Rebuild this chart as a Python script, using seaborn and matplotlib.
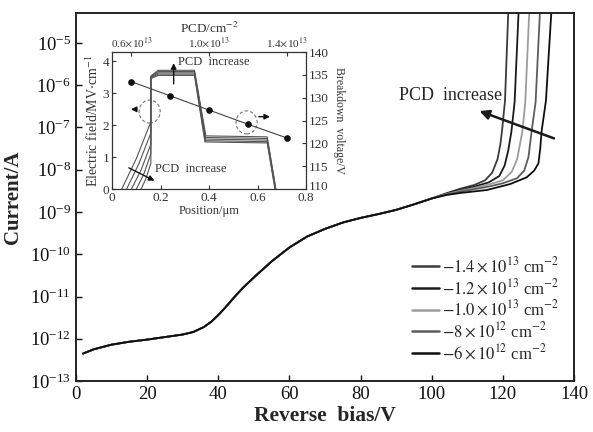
import numpy as np
import pandas as pd
import matplotlib
matplotlib.use("Agg")
import matplotlib.pyplot as plt
import matplotlib.transforms as mtransforms
from matplotlib.patches import Ellipse
from matplotlib.lines import Line2D
from matplotlib.ticker import NullLocator
import seaborn as sns

# ── Data ──────────────────────────────────────────────────────────────────────
pcd_names = ["-1.4e13", "-1.2e13", "-1.0e13", "-8e12", "-6e12"]
legend_labels = [r"$-1.4\times10^{13}$ cm$^{-2}$", r"$-1.2\times10^{13}$ cm$^{-2}$",
                 r"$-1.0\times10^{13}$ cm$^{-2}$", r"$-8\times10^{12}$ cm$^{-2}$",
                 r"$-6\times10^{12}$ cm$^{-2}$"]
line_colors = ["#3c3c3c", "#1a1a1a", "#9c9c9c", "#5c5c5c", "#0e0e0e"]

# shared part of the I-V curves (log10 of current)
base_bias = [2, 5, 10, 15, 20, 25, 30, 33, 36, 38, 40, 42, 45, 47, 50, 55, 60, 65, 70, 75,
             80, 85, 90, 95, 100]
base_logI = [-12.35, -12.25, -12.14, -12.07, -12.02, -11.96, -11.90, -11.84, -11.72, -11.60,
             -11.44, -11.26, -10.97, -10.79, -10.55, -10.17, -9.84, -9.58, -9.40, -9.25,
             -9.14, -9.05, -8.95, -8.82, -8.68]

# breakdown tails, one per PCD
tail_bias_14 = [104, 108, 112, 115, 117, 118.5, 119.3, 119.8, 120.6, 121.5, 121.8]
tail_logI_14 = [-8.56, -8.45, -8.36, -8.25, -8.07, -7.75, -7.40, -7.05, -6.37, -4.30, -3.50]
tail_bias_12 = [104, 108, 112, 116, 119, 120.5, 121.5, 122.4, 123.3, 124.4, 124.7]
tail_logI_12 = [-8.57, -8.48, -8.40, -8.30, -8.15, -7.90, -7.55, -7.10, -6.40, -4.30, -3.50]
tail_bias_10 = [104, 108, 112, 116, 120, 122.5, 124, 124.8, 125.5, 126.3, 127.4, 127.7]
tail_logI_10 = [-8.58, -8.50, -8.43, -8.35, -8.25, -8.05, -7.75, -7.40, -7.08, -6.40, -4.30, -3.50]
tail_bias_08 = [104, 108, 112, 116, 120, 124, 126, 127.2, 128.1, 129.2, 130.4, 130.7]
tail_logI_08 = [-8.59, -8.52, -8.46, -8.40, -8.32, -8.20, -8.02, -7.70, -7.08, -6.40, -4.30, -3.50]
tail_bias_06 = [104, 108, 115.5, 122, 126.7, 128.8, 130, 130.5, 130.9, 132.1, 133.6, 133.9]
tail_logI_06 = [-8.60, -8.55, -8.48, -8.34, -8.18, -8.02, -7.85, -7.50, -7.08, -6.37, -4.30, -3.50]

# inset: electric field profiles
pos_06 = [0.040, 0.100, 0.160, 0.160, 0.190, 0.340, 0.383, 0.640, 0.672]
field_06 = [0, 0.95, 2.10, 3.45, 3.55, 3.55, 1.47, 1.44, 0]
pos_08 = [0.060, 0.110, 0.160, 0.160, 0.190, 0.340, 0.384, 0.640, 0.673]
field_08 = [0, 0.78, 1.75, 3.47, 3.59, 3.59, 1.51, 1.48, 0]
pos_10 = [0.080, 0.120, 0.160, 0.160, 0.190, 0.340, 0.385, 0.640, 0.674]
field_10 = [0, 0.60, 1.40, 3.49, 3.63, 3.63, 1.56, 1.53, 0]
pos_12 = [0.100, 0.130, 0.160, 0.160, 0.190, 0.340, 0.386, 0.640, 0.675]
field_12 = [0, 0.45, 1.10, 3.51, 3.67, 3.67, 1.61, 1.58, 0]
pos_14 = [0.120, 0.140, 0.160, 0.160, 0.190, 0.340, 0.387, 0.640, 0.676]
field_14 = [0, 0.33, 0.80, 3.53, 3.71, 3.71, 1.66, 1.63, 0]

# inset: breakdown voltage vs PCD (x1e13 cm^-2)
pcd_values = [0.6, 0.8, 1.0, 1.2, 1.4]
breakdown_v = [133.5, 130.4, 127.3, 124.2, 121.2]

# ── Build long tables ─────────────────────────────────────────────────────────
tails = [(tail_bias_14, tail_logI_14), (tail_bias_12, tail_logI_12), (tail_bias_10, tail_logI_10),
         (tail_bias_08, tail_logI_08), (tail_bias_06, tail_logI_06)]
rows = []
for name, (tb, tl) in zip(pcd_names, tails):
    for v, li in zip(base_bias + tb, base_logI + tl):
        rows.append({"pcd": name, "bias": v, "current": 10.0 ** li})
iv = pd.DataFrame(rows)

profiles = [(pos_14, field_14), (pos_12, field_12), (pos_10, field_10), (pos_08, field_08), (pos_06, field_06)]
rows = []
for name, (p, f) in zip(pcd_names, profiles):
    for x, y in zip(p, f):
        rows.append({"pcd": name, "pos": x, "field": y})
ef = pd.DataFrame(rows)

bv = pd.DataFrame({"pcd": pcd_values, "vbd": breakdown_v})

# ── Style ─────────────────────────────────────────────────────────────────────
sns.set_theme(style="ticks")
plt.rcParams["font.family"] = ["Liberation Serif", "DejaVu Serif"]
plt.rcParams["mathtext.fontset"] = "stix"
plt.rcParams["axes.unicode_minus"] = True

fig = plt.figure(figsize=(5.93, 4.32), dpi=100)
ax = fig.add_axes([0.128, 0.118, 0.840, 0.852])

palette = dict(zip(pcd_names, line_colors))
sns.lineplot(data=iv, x="bias", y="current", hue="pcd", hue_order=pcd_names, palette=palette,
             estimator=None, sort=False, lw=1.3, legend=False, ax=ax)
ax.set_yscale("log")
ax.set_xlim(0, 140)
ax.set_ylim(1e-13, 10 ** -4.29)
ax.set_xticks([0, 20, 40, 60, 80, 100, 120, 140])
ax.set_yticks([10.0 ** k for k in range(-13, -4)])
ax.yaxis.set_minor_locator(NullLocator())
ax.tick_params(direction="in", length=4, width=1, labelsize=13.5, colors="#111")
for s in ax.spines.values():
    s.set_linewidth(1.4)
    s.set_color("#222")
ax.set_xlabel("Reverse  bias/V", fontsize=15.5, fontweight="bold", labelpad=2)
ax.set_ylabel("Current/A", fontsize=15, fontweight="bold", labelpad=5)

ax.annotate("", xy=(112.7, 10 ** -6.59), xytext=(135.1, 10 ** -7.28),
            arrowprops=dict(arrowstyle="-|>", lw=1.8, mutation_scale=14, color="k"))
ax.text(105.3, 10 ** -6.25, "PCD  increase", ha="center", va="center", fontsize=13)

handles = [Line2D([], [], color=c, lw=1.8) for c in line_colors]
ax.legend(handles, legend_labels, loc="upper left", bbox_to_anchor=(0.695, 0.408),
          bbox_transform=fig.transFigure, frameon=False, fontsize=12, handlelength=1.6,
          handletextpad=0.2, labelspacing=0.12, borderpad=0, borderaxespad=0)

# ── Inset ─────────────────────────────────────────────────────────────────────
rect = [0.189, 0.5625, 0.327, 0.317]
ins = fig.add_axes(rect)
for name in pcd_names:
    sub = ef[ef["pcd"] == name]
    sns.lineplot(data=sub, x="pos", y="field", estimator=None, sort=False,
                 color="#555", lw=0.8, ax=ins)
ins.set_xlim(0, 0.8)
ins.set_ylim(0, 4.28)
ins.set_xticks([0, 0.2, 0.4, 0.6, 0.8])
ins.set_xticklabels(["0", "0.2", "0.4", "0.6", "0.8"])
ins.set_yticks([0, 1, 2, 3, 4])
ins.tick_params(direction="in", length=3, width=0.8, labelsize=9.5, colors="#333", pad=2)
for s in ins.spines.values():
    s.set_linewidth(0.9)
    s.set_color("#333")
ins.set_xlabel("Position/μm", fontsize=9, color="#333", labelpad=1)
ins.set_ylabel(r"Electric field/MV$\cdot$cm$^{-1}$", fontsize=10, color="#333", labelpad=1)

ins.add_patch(Ellipse((0.155, 2.42), 0.087, 0.72, fill=False, ls=(0, (3, 2)), ec="#777", lw=0.8))
ins.add_patch(Ellipse((0.555, 2.08), 0.087, 0.72, fill=False, ls=(0, (3, 2)), ec="#777", lw=0.8))
arr = dict(arrowstyle="-|>", lw=1.0, mutation_scale=8, color="#111")
ins.annotate("", xy=(0.066, 2.49), xytext=(0.114, 2.49), arrowprops=arr)
ins.annotate("", xy=(0.663, 2.26), xytext=(0.594, 2.26), arrowprops=arr)
ins.annotate("", xy=(0.254, 4.02), xytext=(0.254, 3.20), arrowprops=arr)
ins.annotate("", xy=(0.185, 0.22), xytext=(0.059, 0.70), arrowprops=arr)
ins.text(0.272, 3.96, "PCD  increase", fontsize=9, color="#333", va="center")
ins.text(0.177, 0.61, "PCD  increase", fontsize=9, color="#333", va="center")

bvax = fig.add_axes(rect, facecolor="none")
sns.lineplot(data=bv, x="pcd", y="vbd", color="#444", lw=0.8, marker="o", markersize=4,
             markerfacecolor="#111", markeredgecolor="#111", ax=bvax)
bvax.set_xlim(0.5, 1.5)
bvax.set_ylim(110, 140)
bvax.xaxis.tick_top()
bvax.xaxis.set_label_position("top")
bvax.yaxis.tick_right()
bvax.yaxis.set_label_position("right")
bvax.set_xticks([0.6, 1.0, 1.4])
bvax.set_xticklabels([r"0.6$\times$10$^{13}$", r"1.0$\times$10$^{13}$", r"1.4$\times$10$^{13}$"])
bvax.set_yticks([110, 115, 120, 125, 130, 135, 140])
bvax.tick_params(axis="x", direction="in", length=3, width=0.8, labelsize=8, colors="#333", pad=2)
bvax.tick_params(axis="y", direction="in", length=3, width=0.8, labelsize=9.5, colors="#333", pad=2)
for s in bvax.spines.values():
    s.set_visible(False)
bvax.set_xlabel(r"PCD/cm$^{-2}$", fontsize=9.5, color="#333", labelpad=2)
bvax.set_ylabel("Breakdown  voltage/V", fontsize=8.5, color="#333", rotation=-90, va="bottom", labelpad=3)

# lift the "110" label a little so it clears the "0.8" below it
fig.canvas.draw()
lift = mtransforms.ScaledTranslation(0, 4 / 100, fig.dpi_scale_trans)
lbl = bvax.get_yticklabels()[0]
lbl.set_transform(lbl.get_transform() + lift)

fig.savefig("out.png", dpi=100)
